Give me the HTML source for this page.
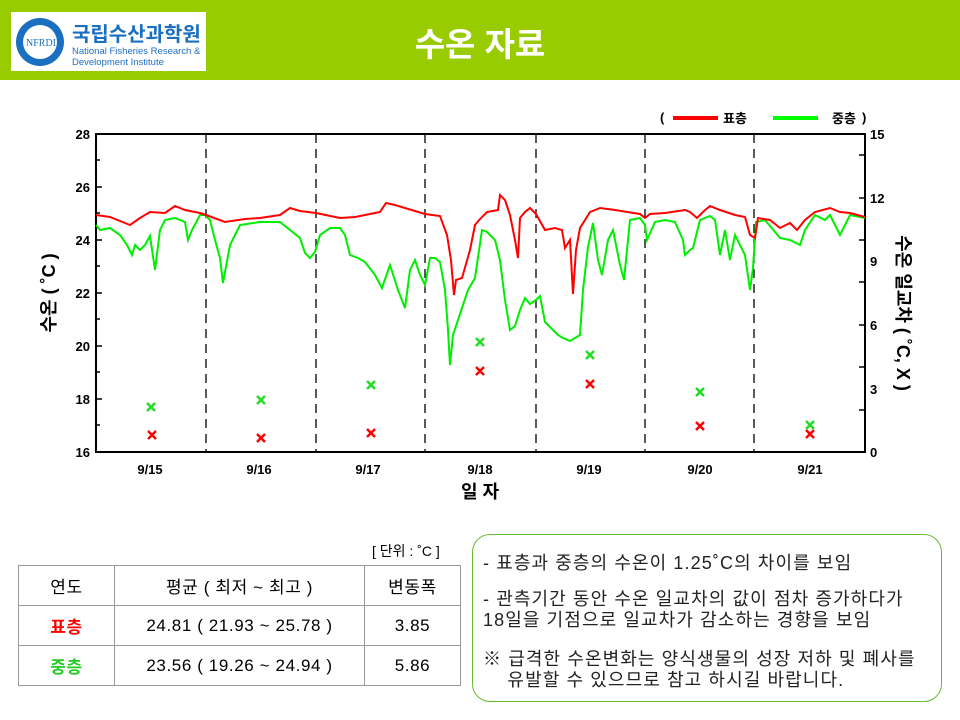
<!DOCTYPE html>
<html><head><meta charset="utf-8"><style>
body{margin:0;width:960px;height:720px;background:#fff;position:relative;overflow:hidden;font-family:"Liberation Sans","Noto Sans CJK KR",sans-serif}
.bar{position:absolute;left:0;top:0;width:960px;height:80px;background:#99cc00}
.logo{position:absolute;left:11px;top:12px;width:195px;height:59px;background:#fff}
.title{position:absolute;left:0;width:960px;top:18px;text-align:center;color:#fff;font-size:33px;font-weight:bold}
table{position:absolute;left:18px;top:565px;border-collapse:collapse;font-size:17px;letter-spacing:0.6px}
td{border:1px solid #999;height:39px;text-align:center;padding:0}
.box{position:absolute;left:472px;top:534px;width:468px;height:166px;border:1.5px solid #66bb33;border-radius:18px;font-size:18px;letter-spacing:1.1px;color:#222;line-height:21px}
</style></head><body>
<div class="bar"></div>
<div class="logo">
<svg width="195" height="59"><circle cx="29" cy="30" r="24" fill="#1a6fc0"/><circle cx="29" cy="30" r="17" fill="#fff"/><text x="15" y="34" font-size="10" fill="#1a6fc0" font-family="Liberation Serif">NFRDI</text>
<text x="61" y="29" font-size="20" font-weight="bold" fill="#1a6fc0" font-family="Liberation Sans,Noto Sans CJK KR,sans-serif">국립수산과학원</text>
<text x="61" y="42" font-size="9.5" fill="#1a6fc0">National Fisheries Research &amp;</text>
<text x="61" y="53" font-size="9.5" fill="#1a6fc0">Development Institute</text></svg></div>
<div class="title">수온 자료</div>
<svg style="position:absolute;left:0;top:0" width="960" height="530" font-family="Liberation Sans,Noto Sans CJK KR,sans-serif">
<g font-size="13" font-weight="bold">
<text x="660" y="122">(</text><line x1="673" y1="118" x2="718" y2="118" stroke="#f00" stroke-width="4"/><text x="723" y="123">표층</text>
<line x1="773" y1="118" x2="818" y2="118" stroke="#0f0" stroke-width="4"/><text x="832" y="123">중층</text><text x="862" y="122">)</text></g>
<g stroke="#000" stroke-width="1.3" stroke-dasharray="9,6">
<line x1="206" y1="134" x2="206" y2="452"/><line x1="316" y1="134" x2="316" y2="452"/><line x1="425" y1="134" x2="425" y2="452"/><line x1="536" y1="134" x2="536" y2="452"/><line x1="645" y1="134" x2="645" y2="452"/><line x1="754" y1="134" x2="754" y2="452"/></g>
<rect x="96" y="134" width="769" height="318" fill="none" stroke="#000" stroke-width="2"/>
<g stroke="#000" stroke-width="1.5">
<line x1="96" y1="134" x2="102" y2="134"/><line x1="96" y1="187" x2="102" y2="187"/><line x1="96" y1="240" x2="102" y2="240"/><line x1="96" y1="293" x2="102" y2="293"/><line x1="96" y1="346" x2="102" y2="346"/><line x1="96" y1="399" x2="102" y2="399"/>
<line x1="96" y1="160" x2="100" y2="160"/><line x1="96" y1="213" x2="100" y2="213"/><line x1="96" y1="266" x2="100" y2="266"/><line x1="96" y1="319" x2="100" y2="319"/><line x1="96" y1="372" x2="100" y2="372"/><line x1="96" y1="425" x2="100" y2="425"/>
<line x1="859" y1="155" x2="865" y2="155"/><line x1="859" y1="198" x2="865" y2="198"/><line x1="859" y1="240" x2="865" y2="240"/><line x1="859" y1="282" x2="865" y2="282"/><line x1="859" y1="325" x2="865" y2="325"/><line x1="859" y1="367" x2="865" y2="367"/><line x1="859" y1="410" x2="865" y2="410"/>
</g>
<g font-size="13" font-weight="bold" text-anchor="end">
<text x="90" y="139">28</text><text x="90" y="192">26</text><text x="90" y="245">24</text><text x="90" y="298">22</text><text x="90" y="351">20</text><text x="90" y="404">18</text><text x="90" y="457">16</text></g>
<g font-size="13" font-weight="bold">
<text x="870" y="139">15</text><text x="870" y="203">12</text><text x="870" y="266">9</text><text x="870" y="330">6</text><text x="870" y="394">3</text><text x="870" y="457">0</text></g>
<g font-size="13" font-weight="bold" text-anchor="middle">
<text x="150" y="474">9/15</text><text x="259" y="474">9/16</text><text x="368" y="474">9/17</text><text x="480" y="474">9/18</text><text x="589" y="474">9/19</text><text x="700" y="474">9/20</text><text x="810" y="474">9/21</text></g>
<text x="480" y="498" font-size="18" font-weight="bold" text-anchor="middle">일 자</text>
<text transform="translate(55,293) rotate(-90)" font-size="18" font-weight="bold" text-anchor="middle">수온 ( ˚C )</text>
<text transform="translate(897,313) rotate(90)" font-size="18" font-weight="bold" text-anchor="middle">수온 일교차 ( ˚C, X )</text>
<polyline fill="none" stroke="#0e0" stroke-width="2" points="96,225 100,230 110,228 120,235 127,245 132,255 135,245 140,250 145,245 150,236 155,270 160,230 165,220 175,218 185,222 188,240 192,230 200,215 205,215 210,220 215,240 220,258 223,283 230,245 240,225 260,222 280,222 290,230 300,238 305,253 310,258 315,252 320,235 330,228 340,228 345,235 350,255 358,258 365,262 375,275 382,288 390,265 398,290 405,308 410,270 415,260 420,275 425,285 430,258 435,258 440,262 445,290 448,330 450,365 453,335 458,320 463,305 468,290 475,278 482,230 487,232 495,240 500,260 505,300 510,330 515,326 520,310 525,298 530,304 536,300 540,296 545,322 553,330 558,335 563,338 570,341 575,338 580,335 583,290 588,247 593,223 598,260 602,275 608,240 613,230 620,265 624,280 630,220 640,218 645,225 647,240 655,222 665,220 675,222 683,240 685,255 690,250 693,248 700,220 710,216 715,220 720,255 725,230 730,260 735,235 745,255 750,290 753,268 756,222 765,220 780,238 790,240 800,245 805,230 815,215 825,220 830,215 840,235 850,215 865,218"/>
<polyline fill="none" stroke="#f00" stroke-width="2" points="96,215 110,217 120,221 130,225 140,218 150,212 165,213 175,206 185,210 200,213 206,215 225,222 245,219 260,218 280,215 290,208 300,211 316,213 340,218 355,217 375,213 380,212 386,203 395,205 425,214 440,216 447,235 451,260 454,295 456,280 462,278 470,250 475,225 480,219 487,212 498,210 500,195 505,200 510,215 515,240 518,258 520,218 525,212 530,208 536,214 545,230 555,228 562,230 565,248 570,240 573,294 576,250 580,228 585,220 590,212 600,208 615,210 640,214 645,218 650,214 665,213 685,210 690,212 697,218 704,211 710,206 720,210 735,215 745,217 750,235 755,238 758,218 770,220 780,228 790,223 797,230 805,220 815,212 830,208 840,212 850,213 865,217"/>
<g stroke-width="2.5">
<g stroke="#f00"><path d="M148,431l8,8m0,-8l-8,8M257,434l8,8m0,-8l-8,8M367,429l8,8m0,-8l-8,8M476,367l8,8m0,-8l-8,8M586,380l8,8m0,-8l-8,8M696,422l8,8m0,-8l-8,8M806,430l8,8m0,-8l-8,8"/></g>
<g stroke="#2d2"><path d="M147,403l8,8m0,-8l-8,8M257,396l8,8m0,-8l-8,8M367,381l8,8m0,-8l-8,8M476,338l8,8m0,-8l-8,8M586,351l8,8m0,-8l-8,8M696,388l8,8m0,-8l-8,8M806,421l8,8m0,-8l-8,8"/></g></g>
</svg>
<div style="position:absolute;left:372px;top:541px;font-size:14px">[ 단위 : ˚C ]</div>
<table>
<tr><td style="width:95px">연도</td><td style="width:249px">평균 ( 최저 ~ 최고 )</td><td style="width:95px">변동폭</td></tr>
<tr><td style="color:#f00;font-weight:bold">표층</td><td>24.81 ( 21.93 ~ 25.78 )</td><td>3.85</td></tr>
<tr><td style="color:#2c2;font-weight:bold">중층</td><td>23.56 ( 19.26 ~ 24.94 )</td><td>5.86</td></tr>
</table>
<div class="box">
<div style="position:absolute;left:10px;top:18px;white-space:nowrap">- 표층과 중층의 수온이 1.25˚C의 차이를 보임</div>
<div style="position:absolute;left:10px;top:54px;white-space:nowrap">- 관측기간 동안 수온 일교차의 값이 점차 증가하다가<br>18일을 기점으로 일교차가 감소하는 경향을 보임</div>
<div style="position:absolute;left:10px;top:114px;white-space:nowrap">※ 급격한 수온변화는 양식생물의 성장 저하 및 폐사를<br>&nbsp;&nbsp;&nbsp;&nbsp;유발할 수 있으므로 참고 하시길 바랍니다.</div>
</div>
</body></html>
